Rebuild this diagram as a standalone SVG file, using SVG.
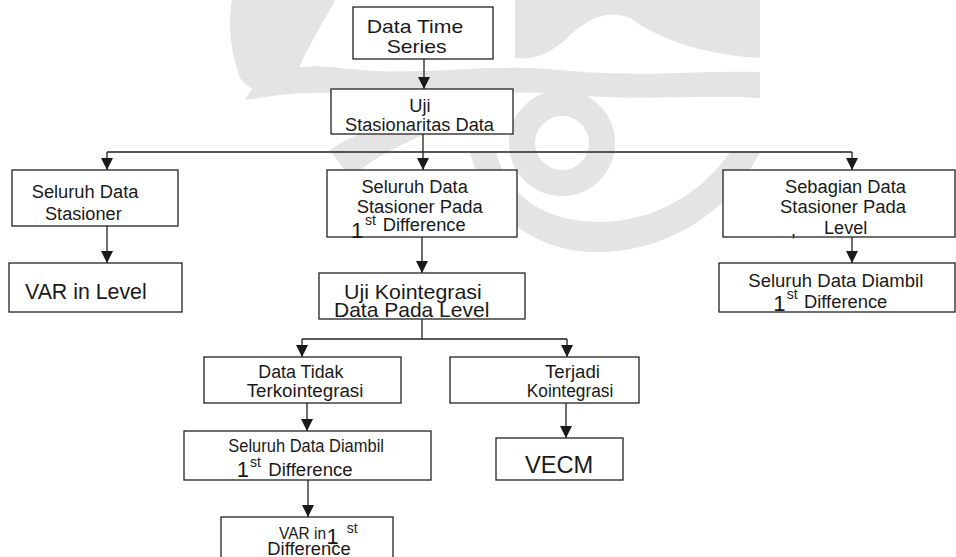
<svg xmlns="http://www.w3.org/2000/svg" width="956" height="557" viewBox="0 0 956 557">
<style>
.box{fill:#fff;stroke:#222;stroke-width:1.3}
.t{font-family:"Liberation Sans",Arial,sans-serif;fill:#1a1a1a;font-size:18px}
.sup{font-size:14px}
.c{fill:none;stroke:#222;stroke-width:1.3}
.wm{fill:#e4e4e4;stroke:none}
</style>
<defs>
<marker id="ah" markerUnits="userSpaceOnUse" markerWidth="12" markerHeight="12" refX="12" refY="6" orient="auto">
<path d="M0,0 L12,6 L0,12 Z" fill="#1a1a1a"/>
</marker>
</defs>
<rect width="956" height="557" fill="#fff"/>
<g id="watermark">
<path class="wm" d="M232,0 L335,0 C320,30 300,55 292,92 C270,98 250,92 240,78 C230,50 228,25 232,0 Z"/>
<path class="wm" d="M245,100 C260,70 300,62 340,68 C420,78 480,62 560,70 C640,78 700,70 760,72 L760,98 C700,94 640,102 560,94 C480,88 420,102 340,94 C300,90 270,97 245,100 Z"/>
<path class="wm" d="M515,0 L760,0 L760,58 C705,55 660,40 630,18 C605,8 585,20 565,40 C548,55 532,60 515,58 Z"/>
<circle cx="562" cy="143" r="40" fill="none" stroke="#e4e4e4" stroke-width="26"/>
<path class="wm" d="M470,152 C490,232 560,266 640,247 C700,232 740,192 760,152 L730,152 C700,196 650,222 600,222 C540,222 506,192 496,152 Z"/>
<path class="wm" d="M330,150 C360,130 400,118 440,106 L462,120 C420,135 380,152 350,178 Z"/>
</g>
<g id="connectors">
<line class="c" x1="424" y1="59" x2="424" y2="89" marker-end="url(#ah)"/>
<line class="c" x1="423" y1="134" x2="423" y2="152"/>
<line class="c" x1="107" y1="152" x2="852" y2="152"/>
<line class="c" x1="107" y1="152" x2="107" y2="170" marker-end="url(#ah)"/>
<line class="c" x1="423" y1="152" x2="423" y2="170" marker-end="url(#ah)"/>
<line class="c" x1="852" y1="152" x2="852" y2="170" marker-end="url(#ah)"/>
<line class="c" x1="107" y1="226" x2="107" y2="263" marker-end="url(#ah)"/>
<line class="c" x1="422" y1="237" x2="422" y2="273" marker-end="url(#ah)"/>
<line class="c" x1="852" y1="237" x2="852" y2="263" marker-end="url(#ah)"/>
<line class="c" x1="422" y1="319" x2="422" y2="339"/>
<line class="c" x1="302" y1="339" x2="567" y2="339"/>
<line class="c" x1="302" y1="339" x2="302" y2="357" marker-end="url(#ah)"/>
<line class="c" x1="567" y1="339" x2="567" y2="357" marker-end="url(#ah)"/>
<line class="c" x1="307" y1="403" x2="307" y2="431" marker-end="url(#ah)"/>
<line class="c" x1="566" y1="403" x2="566" y2="438" marker-end="url(#ah)"/>
<line class="c" x1="308" y1="480" x2="308" y2="517" marker-end="url(#ah)"/>
</g>
<g id="n-data-time-series">
<rect class="box" x="353" y="7" width="140" height="52"/>
<text class="t" x="366.7" y="33.3" style="font-size:19px" textLength="96.6" lengthAdjust="spacingAndGlyphs">Data Time</text>
<text class="t" x="386.7" y="52.7" style="font-size:19px" textLength="60" lengthAdjust="spacingAndGlyphs">Series</text>
</g>
<g id="n-uji-stasionaritas">
<rect class="box" x="331" y="89" width="182" height="45"/>
<text class="t" x="409.3" y="111.7" style="font-size:18.5px" textLength="21.3" lengthAdjust="spacingAndGlyphs">Uji</text>
<text class="t" x="345" y="130.7" textLength="149" lengthAdjust="spacingAndGlyphs">Stasionaritas Data</text>
</g>
<g id="n-seluruh-stasioner">
<rect class="box" x="12" y="170" width="166" height="56"/>
<text class="t" x="31.7" y="198.3" textLength="106.7" lengthAdjust="spacingAndGlyphs">Seluruh Data</text>
<text class="t" x="45" y="220" textLength="76.7" lengthAdjust="spacingAndGlyphs">Stasioner</text>
</g>
<g id="n-var-level">
<rect class="box" x="9" y="263" width="173" height="49"/>
<text class="t" x="25" y="299" style="font-size:21.5px" textLength="121.7" lengthAdjust="spacingAndGlyphs">VAR in Level</text>
</g>
<g id="n-stasioner-1st">
<rect class="box" x="327" y="170" width="190" height="67"/>
<text class="t" x="361.4" y="193" textLength="106.4" lengthAdjust="spacingAndGlyphs">Seluruh Data</text>
<text class="t" x="356.7" y="212.7" textLength="126" lengthAdjust="spacingAndGlyphs">Stasioner Pada</text>
<text class="t" x="351" y="237.5" style="font-size:22px">1</text>
<text class="t sup" x="365" y="225">st</text>
<text class="t" x="382.7" y="231" style="font-size:17.5px" textLength="83" lengthAdjust="spacingAndGlyphs">Difference</text>
</g>
<g id="n-uji-kointegrasi">
<rect class="box" x="319" y="273" width="206" height="46"/>
<text class="t" x="344" y="299.3" style="font-size:21px" textLength="137.7" lengthAdjust="spacingAndGlyphs">Uji Kointegrasi</text>
<text class="t" x="334" y="317.3" style="font-size:21px" textLength="155.3" lengthAdjust="spacingAndGlyphs">Data Pada Level</text>
</g>
<g id="n-tidak-kointegrasi">
<rect class="box" x="204" y="357" width="197" height="46"/>
<text class="t" x="258.3" y="378.3" textLength="85" lengthAdjust="spacingAndGlyphs">Data Tidak</text>
<text class="t" x="246.7" y="397.3" textLength="116.7" lengthAdjust="spacingAndGlyphs">Terkointegrasi</text>
</g>
<g id="n-terjadi-kointegrasi">
<rect class="box" x="450" y="357" width="189" height="46"/>
<text class="t" x="545" y="378.3" textLength="55" lengthAdjust="spacingAndGlyphs">Terjadi</text>
<text class="t" x="526.7" y="397.3" textLength="86.7" lengthAdjust="spacingAndGlyphs">Kointegrasi</text>
</g>
<g id="n-diambil-lower">
<rect class="box" x="184" y="431" width="247" height="49"/>
<text class="t" x="228.3" y="451.7" style="font-size:17.5px" textLength="155.7" lengthAdjust="spacingAndGlyphs">Seluruh Data Diambil</text>
<text class="t" x="236.7" y="477" style="font-size:22px">1</text>
<text class="t sup" x="250" y="467">st</text>
<text class="t" x="268.3" y="476" textLength="84.3" lengthAdjust="spacingAndGlyphs">Difference</text>
</g>
<g id="n-vecm">
<rect class="box" x="496" y="438" width="127" height="42"/>
<text class="t" x="525" y="472.7" style="font-size:24px" textLength="68.3" lengthAdjust="spacingAndGlyphs">VECM</text>
</g>
<g id="n-var-1st">
<rect class="box" x="221" y="517" width="172" height="50"/>
<text class="t" x="279" y="539.3" style="font-size:17px" textLength="47" lengthAdjust="spacingAndGlyphs">VAR in</text>
<text class="t" x="326.5" y="544" style="font-size:22px">1</text>
<text class="t sup" x="346.7" y="533">st</text>
<text class="t" x="267.3" y="555" style="font-size:17.5px" textLength="83.4" lengthAdjust="spacingAndGlyphs">Difference</text>
</g>
<g id="n-sebagian">
<rect class="box" x="723" y="170" width="232" height="67"/>
<text class="t" x="785" y="193.3" textLength="121" lengthAdjust="spacingAndGlyphs">Sebagian Data</text>
<text class="t" x="780" y="212.7" textLength="126" lengthAdjust="spacingAndGlyphs">Stasioner Pada</text>
<text class="t" x="824" y="234.3" textLength="43.3" lengthAdjust="spacingAndGlyphs">Level</text>
<text class="t" x="791" y="236">,</text>
</g>
<g id="n-diambil-right">
<rect class="box" x="719" y="263" width="236" height="49"/>
<text class="t" x="748.3" y="286.7" textLength="175" lengthAdjust="spacingAndGlyphs">Seluruh Data Diambil</text>
<text class="t" x="773.3" y="311" style="font-size:22px">1</text>
<text class="t sup" x="786.7" y="299.3">st</text>
<text class="t" x="804" y="308.3" textLength="83.3" lengthAdjust="spacingAndGlyphs">Difference</text>
</g>
</svg>
